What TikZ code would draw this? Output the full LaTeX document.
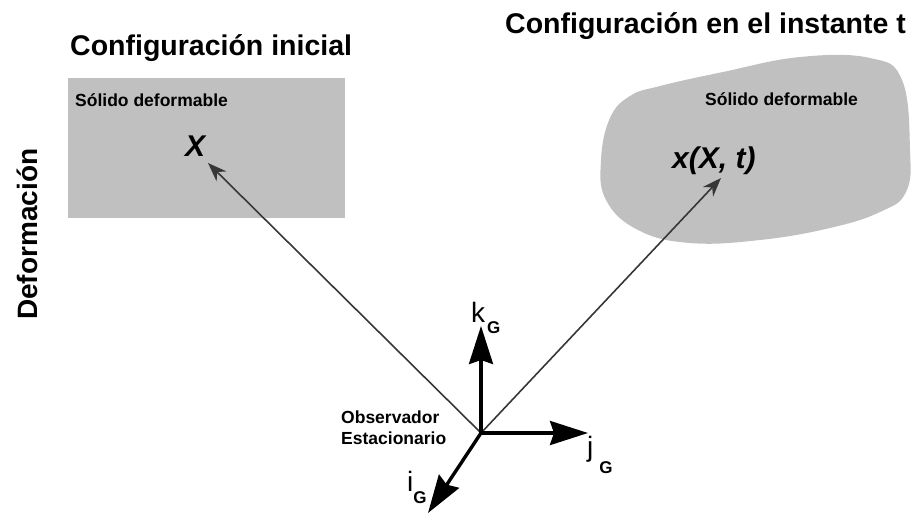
\documentclass[tikz,border=0pt]{standalone}
\usepackage{fontspec}
\setmainfont{Liberation Sans}
\usepackage{xcolor}
\usetikzlibrary{arrows.meta,positioning}

\definecolor{bodygray}{RGB}{192,192,192}
\definecolor{vecgray}{RGB}{55,55,55}
\newcommand{\fsz}[1]{\fontsize{#1}{#1}\selectfont}
% axis label: letter with a bold G below-right
\newcommand{\axlbl}[3]{#1\kern#3pt\raisebox{-#2pt}{\fsz{17}\bfseries G}}

\begin{document}
\begin{tikzpicture}[
  x=1pt, y=-1pt,
  txt/.style={inner sep=0pt, anchor=base west},
  titletxt/.style={txt, font=\fsz{28.5}\bfseries},
  bodylabel/.style={txt, font=\fsz{17.5}\bfseries},
  pointlbl/.style={txt, font=\fsz{30}\bfseries\itshape},
  axislbl/.style={txt, font=\fsz{28}},
  posvec/.style={draw=vecgray, line width=1.6pt,
    -{Stealth[length=19pt,width=14pt]}},
  axisvec/.style={draw=black, line width=3.4pt,
    -{Stealth[length=38pt,width=24pt,inset=4pt]}}
]
  \useasboundingbox (0,0) rectangle (913,512);

  % bodies
  \node[fill=bodygray, minimum width=277pt, minimum height=140pt,
    inner sep=0pt] (ini) at (206.5,148) {};
  \fill[bodygray] plot[smooth cycle, tension=0.7] coordinates {
    (630,96) (660,86) (723,72) (800,57) (870,58) (902,80) (910,150)
    (906,192) (880,212) (830,228) (760,240) (690,243) (638,230)
    (606,200) (601,160) (610,118)};

  % titles
  \node[titletxt] (tini) at (70,55) {Configuración inicial};
  \node[titletxt] (tfin) at (505,33) {Configuración en el instante t};
  \node[txt, font=\fsz{28}\bfseries, rotate=90] (defo) at (37,320)
    {Deformación};

  \node[bodylabel] (sini) at (75,106) {Sólido deformable};
  \node[bodylabel] (sfin) at (705,105) {Sólido deformable};

  \node[pointlbl] (X) at (185,156) {X};
  \node[pointlbl] (xXt) at (672,168) {x(X, t)};

  % observer frame
  \coordinate (O) at (481,433);
  \coordinate (Xtip) at (208,163);
  \coordinate (xtip) at (721,178);
  \coordinate (kend) at (481,326);
  \coordinate (jend) at (588,433);
  \coordinate (iend) at (428,513);

  \draw[posvec] (O) -- (Xtip);
  \draw[posvec] (O) -- (xtip);
  \draw[axisvec] (O) -- (kend);
  \draw[axisvec] (O) -- (jend);
  \draw[axisvec] (O) -- (iend);

  \node[axislbl] (klbl) at (471,322) {\axlbl{k}{11}{2}};
  \node[axislbl] (jlbl) at (587,456) {\axlbl{j}{17}{6}};
  \node[axislbl] (ilbl) at (407,491) {\axlbl{i}{12}{0}};

  \node[bodylabel, align=left, anchor=north west] (obs) at (341,411)
    {Observador\\[3pt]Estacionario};
\end{tikzpicture}
\end{document}
